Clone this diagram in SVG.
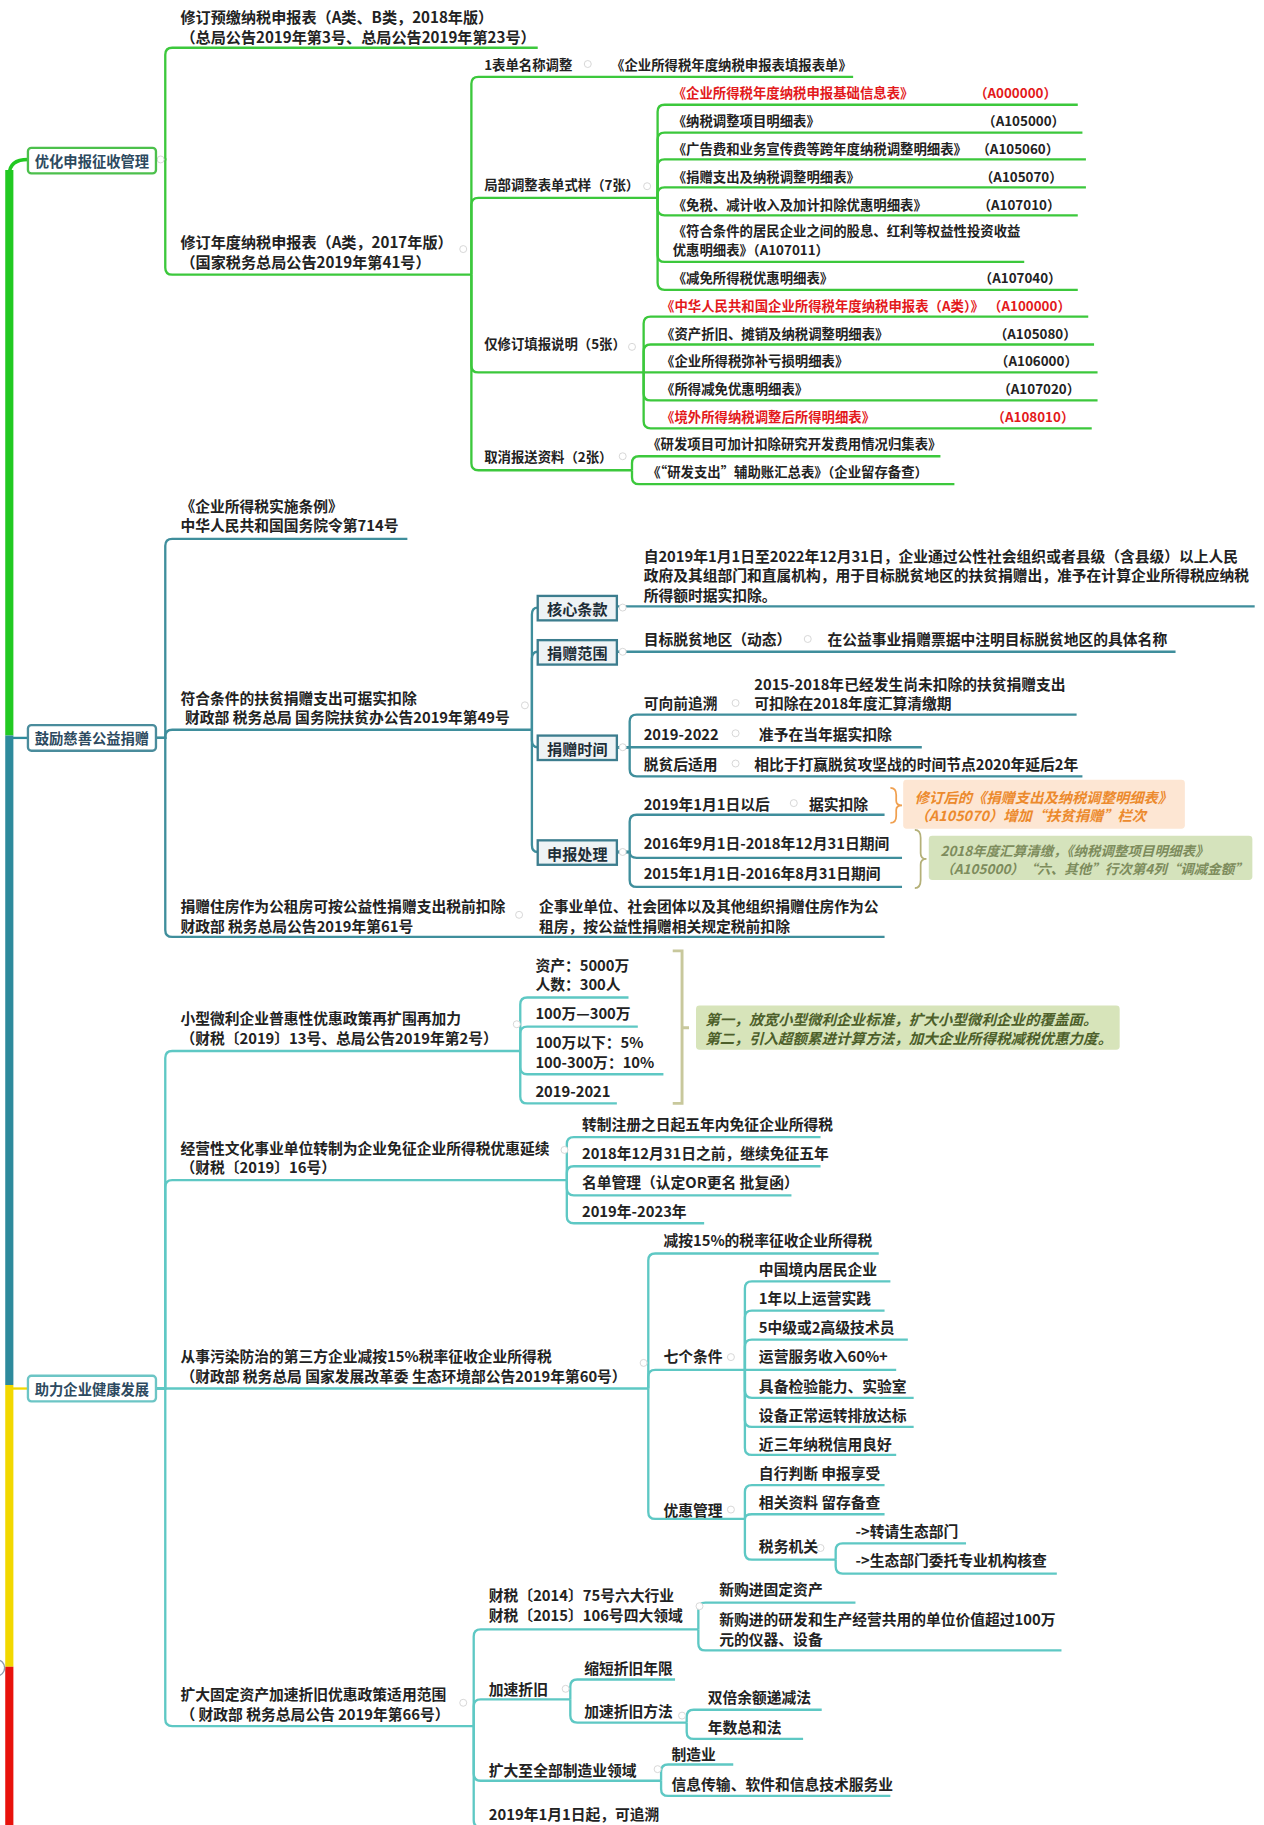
<svg xmlns="http://www.w3.org/2000/svg" width="1264" height="1825" viewBox="0 0 1264 1825">
<style>
.t{font-family:"Noto Sans CJK SC","Noto Sans",sans-serif;font-size:12.7px;font-weight:700;fill:#222;dominant-baseline:central}
.L{font-size:13px}
.s{font-size:11.5px}
.r{fill:#e3191b}
.e{text-anchor:end}
.bl{font-size:12.3px;fill:#2d4a60;text-anchor:middle}
.bx{font-size:13px;fill:#1e2e38;text-anchor:middle}
.c1{stroke:#3cc83c;stroke-width:2;fill:none}
.c2{stroke:#3f8e9c;stroke-width:2;fill:none}
.c3{stroke:#5ec8c4;stroke-width:2;fill:none}
.mk{fill:#fff;stroke:#d4d4d4;stroke-width:0.8}
.sub{fill:#eef3f5;stroke:#3c7d8e;stroke-width:2}
.it{font-style:italic}
</style>
<rect width="1264" height="1825" fill="#fff"/>
<g transform="scale(1.16390)">
<g id="spine">
<path d="M8 632 V146" stroke="#22c922" stroke-width="7" fill="none"/>
<path d="M8 150 Q8 137 24 137" stroke="#22c922" stroke-width="3" fill="none"/>
<path d="M8 1190 V632" stroke="#2e8a9c" stroke-width="7" fill="none"/>
<path d="M8 634 Q12 634 24 634" stroke="#2e8a9c" stroke-width="2" fill="none"/>
<path d="M8 1432 V1190" stroke="#f2d800" stroke-width="7" fill="none"/>
<path d="M8 1193 Q12 1193 24 1193" stroke="#f2d800" stroke-width="2" fill="none"/>
<path d="M8 1568 V1432" stroke="#e8120c" stroke-width="7" fill="none"/>
<circle cx="-3" cy="1433" r="7" fill="#fff" stroke="#8a9aaa" stroke-width="1.2"/>
</g>
<g id="connectors">
<path class="c1" d="M134 137 H142 V47 Q142 41 148 41 H462"/>
<path class="c1" d="M134 137 H142 V230 Q142 236 148 236 H405"/>
<path class="c1" d="M405 236 V72 Q405 66 411 66 H733"/>
<path class="c1" d="M405 236 V176 Q405 170 411 170 H565"/>
<path class="c1" d="M405 236 V314 Q405 320 411 320 H553"/>
<path class="c1" d="M405 236 V398 Q405 404 411 404 H543"/>
<path class="c1" d="M565 170 V96 Q565 90 571 90 H926"/>
<path class="c1" d="M565 170 V120 Q565 114 571 114 H930"/>
<path class="c1" d="M565 170 V143 Q565 137 571 137 H933"/>
<path class="c1" d="M565 170 V167 Q565 161 571 161 H933"/>
<path class="c1" d="M565 170 V179 Q565 185 571 185 H926"/>
<path class="c1" d="M565 170 V219 Q565 225 571 225 H880"/>
<path class="c1" d="M565 170 V243 Q565 249 571 249 H926"/>
<path class="c1" d="M553 320 V278 Q553 272 559 272 H935"/>
<path class="c1" d="M553 320 V302 Q553 296 559 296 H940"/>
<path class="c1" d="M553 320 H943"/>
<path class="c1" d="M553 320 V338 Q553 344 559 344 H943"/>
<path class="c1" d="M553 320 V362 Q553 368 559 368 H938"/>
<path class="c1" d="M543 404 V398 Q543 392 549 392 H808"/>
<path class="c1" d="M543 404 V410 Q543 416 549 416 H820"/>

<path class="c2" d="M134 634 H142 V469 Q142 463 148 463 H350"/>
<path class="c2" d="M134 634 H142 V633 Q142 627 148 627 H457"/>
<path class="c2" d="M134 634 H142 V799 Q142 805 148 805 H760"/>
<path class="c2" d="M457 627 V528 Q457 522 462 522"/>
<path class="c2" d="M457 627 V566 Q457 560 462 560"/>
<path class="c2" d="M457 627 V636 Q457 642 462 642"/>
<path class="c2" d="M457 627 V726 Q457 732 462 732"/>
<path class="c2" d="M530 521 H1078"/>
<path class="c2" d="M530 560 H1010"/>
<path class="c2" d="M530 642 H541 V620 Q541 614 547 614 H925"/>
<path class="c2" d="M530 642 H792"/>
<path class="c2" d="M530 642 H541 V661 Q541 667 547 667 H930"/>
<path class="c2" d="M530 732 H541 V706 Q541 700 547 700 H760"/>
<path class="c2" d="M530 732 H541 Q541 737 547 737 H775"/>
<path class="c2" d="M530 732 H541 V756 Q541 762 547 762 H775"/>

<path class="c3" d="M134 1193 H142 V909 Q142 903 148 903 H447"/>
<path class="c3" d="M134 1193 H142 V1020 Q142 1014 148 1014 H487"/>
<path class="c3" d="M134 1193 H557"/>
<path class="c3" d="M134 1193 H142 V1477 Q142 1483 148 1483 H407"/>
<path class="c3" d="M447 903 V863 Q447 857 453 857 H540"/>
<path class="c3" d="M447 903 V888 Q447 882 453 882 H548"/>
<path class="c3" d="M447 903 V917 Q447 923 453 923 H570"/>
<path class="c3" d="M447 903 V942 Q447 948 453 948 H530"/>
<path class="c3" d="M487 1014 V983 Q487 977 493 977 H705"/>
<path class="c3" d="M487 1014 V1008 Q487 1002 493 1002 H705"/>
<path class="c3" d="M487 1014 V1021 Q487 1027 493 1027 H680"/>
<path class="c3" d="M487 1014 V1045 Q487 1051 493 1051 H605"/>
<path class="c3" d="M557 1193 V1083 Q557 1077 563 1077 H755"/>
<path class="c3" d="M557 1193 V1183 Q557 1177 563 1177 H640"/>
<path class="c3" d="M557 1193 V1299 Q557 1305 563 1305 H640"/>
<path class="c3" d="M640 1177 V1107 Q640 1101 646 1101 H765"/>
<path class="c3" d="M640 1177 V1132 Q640 1126 646 1126 H760"/>
<path class="c3" d="M640 1177 V1157 Q640 1151 646 1151 H780"/>
<path class="c3" d="M640 1177 H770"/>
<path class="c3" d="M640 1177 V1195 Q640 1201 646 1201 H785"/>
<path class="c3" d="M640 1177 V1220 Q640 1226 646 1226 H785"/>
<path class="c3" d="M640 1177 V1244 Q640 1250 646 1250 H770"/>
<path class="c3" d="M640 1305 V1282 Q640 1276 646 1276 H760"/>
<path class="c3" d="M640 1305 Q640 1301 646 1301 H760"/>
<path class="c3" d="M640 1305 V1334 Q640 1340 646 1340 H718"/>
<path class="c3" d="M718 1340 V1332 Q718 1326 724 1326 H830"/>
<path class="c3" d="M718 1340 V1346 Q718 1352 724 1352 H908"/>
<path class="c3" d="M407 1483 V1406 Q407 1400 413 1400 H600"/>
<path class="c3" d="M407 1483 V1466 Q407 1460 413 1460 H490"/>
<path class="c3" d="M407 1483 V1524 Q407 1530 413 1530 H568"/>
<path class="c3" d="M407 1483 V1564 Q407 1570 413 1570 H560"/>
<path class="c3" d="M600 1400 V1383 Q600 1377 606 1377 H735"/>
<path class="c3" d="M600 1400 V1412 Q600 1418 606 1418 H912"/>
<path class="c3" d="M490 1460 V1449 Q490 1443 496 1443 H580"/>
<path class="c3" d="M490 1460 V1474 Q490 1480 496 1480 H590"/>
<path class="c3" d="M590 1480 V1475 Q590 1469 596 1469 H706"/>
<path class="c3" d="M590 1480 V1488 Q590 1494 596 1494 H690"/>
<path class="c3" d="M568 1530 V1522 Q568 1516 574 1516 H630"/>
<path class="c3" d="M568 1530 V1537 Q568 1543 574 1543 H765"/>

<path d="M765 677 Q770 677 770 683 V688 Q770 692 775 692 Q770 692 770 696 V701 Q770 707 765 707" stroke="#f0a050" stroke-width="1.5" fill="none"/>
<path d="M786 713 Q791 713 791 720 V733 Q791 738 796 738 Q791 738 791 743 V756 Q791 763 786 763" stroke="#b4b078" stroke-width="1.5" fill="none"/>
<path d="M578 817 H586 V948 H578 M586 883 H592" stroke="#c8c89c" stroke-width="2.5" fill="none"/>
</g>
<g id="markers">
<circle class="mk" cx="138" cy="137" r="3"/><circle class="mk" cx="505" cy="55" r="3"/>
<circle class="mk" cx="398" cy="214" r="3"/><circle class="mk" cx="556" cy="160" r="3"/>
<circle class="mk" cx="543" cy="298" r="3"/><circle class="mk" cx="535" cy="392" r="3"/>
<circle class="mk" cx="451" cy="606" r="3"/><circle class="mk" cx="446" cy="786" r="3"/>
<circle class="mk" cx="535" cy="522" r="3"/><circle class="mk" cx="535" cy="560" r="3"/>
<circle class="mk" cx="535" cy="642" r="3"/><circle class="mk" cx="535" cy="732" r="3"/>
<circle class="mk" cx="694" cy="549" r="3"/><circle class="mk" cx="632" cy="604" r="3"/>
<circle class="mk" cx="632" cy="630" r="3"/><circle class="mk" cx="632" cy="656" r="3"/>
<circle class="mk" cx="682" cy="690" r="3"/><circle class="mk" cx="444" cy="880" r="3"/>
<circle class="mk" cx="485" cy="988" r="3"/><circle class="mk" cx="553" cy="1171" r="3"/>
<circle class="mk" cx="628" cy="1166" r="3"/><circle class="mk" cx="628" cy="1297" r="3"/>
<circle class="mk" cx="705" cy="1330" r="3"/><circle class="mk" cx="398" cy="1463" r="3"/>
<circle class="mk" cx="601" cy="1380" r="3"/><circle class="mk" cx="486" cy="1451" r="3"/>
<circle class="mk" cx="586" cy="1474" r="3"/><circle class="mk" cx="565" cy="1520" r="3"/>
</g>

<g id="n-youhua">
<rect x="24" y="127" width="110" height="22" rx="3" fill="#fff" stroke="#4cc04c" stroke-width="2"/>
<text class="t bl" x="79" y="138">优化申报征收管理</text>
</g>
<g id="n-yujiao">
<text class="t L" x="155" y="14">修订预缴纳税申报表（A类、B类，2018年版）</text>
<text class="t L" x="155" y="31">（总局公告2019年第3号、总局公告2019年第23号）</text>
</g>
<g id="n-niandu">
<text class="t L" x="155" y="207">修订年度纳税申报表（A类，2017年版）</text>
<text class="t L" x="155" y="224">（国家税务总局公告2019年第41号）</text>
</g>
<g id="n-mingcheng"><text class="t s" x="416" y="55">1表单名称调整</text></g>
<g id="n-tianbao"><text class="t s" x="525" y="55">《企业所得税年度纳税申报表填报表单》</text></g>
<g id="n-jubu"><text class="t s" x="416" y="158">局部调整表单式样（7张）</text></g>
<g id="n-jin"><text class="t s" x="416" y="295">仅修订填报说明（5张）</text></g>
<g id="n-quxiao"><text class="t s" x="416" y="392">取消报送资料（2张）</text></g>
<g id="n-a000000"><text class="t s r" x="578" y="79">《企业所得税年度纳税申报基础信息表》</text><text class="t s r e" x="908" y="79">（A000000）</text></g>
<g id="n-a105000"><text class="t s" x="578" y="103">《纳税调整项目明细表》</text><text class="t s e" x="915" y="103">（A105000）</text></g>
<g id="n-a105060"><text class="t s" x="578" y="127">《广告费和业务宣传费等跨年度纳税调整明细表》</text><text class="t s e" x="910" y="127">（A105060）</text></g>
<g id="n-a105070"><text class="t s" x="578" y="151">《捐赠支出及纳税调整明细表》</text><text class="t s e" x="913" y="151">（A105070）</text></g>
<g id="n-a107010"><text class="t s" x="578" y="175">《免税、减计收入及加计扣除优惠明细表》</text><text class="t s e" x="911" y="175">（A107010）</text></g>
<g id="n-a107011"><text class="t s" x="578" y="198">《符合条件的居民企业之间的股息、红利等权益性投资收益</text><text class="t s" x="578" y="214">优惠明细表》（A107011）</text></g>
<g id="n-a107040"><text class="t s" x="578" y="238">《减免所得税优惠明细表》</text><text class="t s e" x="912" y="238">（A107040）</text></g>
<g id="n-a100000"><text class="t s r" x="568" y="262">《中华人民共和国企业所得税年度纳税申报表（A类）》</text><text class="t s r e" x="920" y="262">（A100000）</text></g>
<g id="n-a105080"><text class="t s" x="568" y="286">《资产折旧、摊销及纳税调整明细表》</text><text class="t s e" x="925" y="286">（A105080）</text></g>
<g id="n-a106000"><text class="t s" x="568" y="309">《企业所得税弥补亏损明细表》</text><text class="t s e" x="926" y="309">（A106000）</text></g>
<g id="n-a107020"><text class="t s" x="568" y="333">《所得减免优惠明细表》</text><text class="t s e" x="928" y="333">（A107020）</text></g>
<g id="n-a108010"><text class="t s r" x="568" y="357">《境外所得纳税调整后所得明细表》</text><text class="t s r e" x="923" y="357">（A108010）</text></g>
<g id="n-yanfa1"><text class="t s" x="556" y="381">《研发项目可加计扣除研究开发费用情况归集表》</text></g>
<g id="n-yanfa2"><text class="t s" x="556" y="405">《“研发支出”辅助账汇总表》（企业留存备查）</text></g>

<g id="n-cishan">
<rect x="24" y="623" width="110" height="22" rx="3" fill="#fff" stroke="#4a8c9c" stroke-width="2"/>
<text class="t bl" x="79" y="634">鼓励慈善公益捐赠</text>
</g>
<g id="n-tiaoli"><text class="t" x="155" y="434">《企业所得税实施条例》</text><text class="t" x="155" y="451">中华人民共和国国务院令第714号</text></g>
<g id="n-fupin"><text class="t" x="155" y="599">符合条件的扶贫捐赠支出可据实扣除</text><text class="t" x="159" y="616">财政部 税务总局 国务院扶贫办公告2019年第49号</text></g>
<g id="n-zhufang"><text class="t" x="155" y="778">捐赠住房作为公租房可按公益性捐赠支出税前扣除</text><text class="t" x="155" y="795">财政部 税务总局公告2019年第61号</text></g>
<g id="n-zhufang2"><text class="t" x="463" y="778">企事业单位、社会团体以及其他组织捐赠住房作为公</text><text class="t" x="463" y="795">租房，按公益性捐赠相关规定税前扣除</text></g>
<g id="n-hexin"><rect class="sub" x="462" y="512" width="68" height="21"/><text class="t bx" x="496" y="522.5">核心条款</text></g>
<g id="n-fanwei"><rect class="sub" x="462" y="550" width="68" height="21"/><text class="t bx" x="496" y="560.5">捐赠范围</text></g>
<g id="n-shijian"><rect class="sub" x="462" y="632" width="68" height="21"/><text class="t bx" x="496" y="642.5">捐赠时间</text></g>
<g id="n-shenbao"><rect class="sub" x="462" y="722" width="68" height="21"/><text class="t bx" x="496" y="732.5">申报处理</text></g>
<g id="n-hexin-t">
<text class="t" x="553" y="477">自2019年1月1日至2022年12月31日，企业通过公性社会组织或者县级（含县级）以上人民</text>
<text class="t" x="553" y="494">政府及其组部门和直属机构，用于目标脱贫地区的扶贫捐赠出，准予在计算企业所得税应纳税</text>
<text class="t" x="553" y="511">所得额时据实扣除。</text>
</g>
<g id="n-diqu"><text class="t" x="553" y="549">目标脱贫地区（动态）</text></g>
<g id="n-piaoju"><text class="t" x="711" y="549">在公益事业捐赠票据中注明目标脱贫地区的具体名称</text></g>
<g id="n-zhuisu"><text class="t" x="553" y="604">可向前追溯</text></g>
<g id="n-zhuisu2"><text class="t" x="648" y="587">2015-2018年已经发生尚未扣除的扶贫捐赠支出</text><text class="t" x="648" y="604">可扣除在2018年度汇算清缴期</text></g>
<g id="n-1922"><text class="t" x="553" y="630">2019-2022</text></g>
<g id="n-1922b"><text class="t" x="652" y="630">准予在当年据实扣除</text></g>
<g id="n-tuopin"><text class="t" x="553" y="656">脱贫后适用</text></g>
<g id="n-tuopin2"><text class="t" x="648" y="656">相比于打赢脱贫攻坚战的时间节点2020年延后2年</text></g>
<g id="n-2019"><text class="t" x="553" y="690">2019年1月1日以后</text></g>
<g id="n-jushi"><text class="t" x="695" y="690">据实扣除</text></g>
<g id="n-2016"><text class="t" x="553" y="724">2016年9月1日-2018年12月31日期间</text></g>
<g id="n-2015"><text class="t" x="553" y="750">2015年1月1日-2016年8月31日期间</text></g>
<g id="n-note1">
<rect x="776" y="670" width="242" height="42" rx="3" fill="#fde6d3"/>
<text class="t it" x="786" y="684" style="fill:#ec8a2d;font-size:12.3px">修订后的《捐赠支出及纳税调整明细表》</text>
<text class="t it" x="786" y="700" style="fill:#ec8a2d;font-size:12.3px">（A105070）增加“扶贫捐赠”栏次</text>
</g>
<g id="n-note2">
<rect x="798" y="718" width="278" height="38" rx="3" fill="#d5e3bc"/>
<text class="t it" x="808" y="730" style="fill:#7d8c5c;font-size:11.6px">2018年度汇算清缴，《纳税调整项目明细表》</text>
<text class="t it" x="808" y="746" style="fill:#7d8c5c;font-size:11.6px">（A105000）“六、其他”行次第4列“调减金额”</text>
</g>

<g id="n-jiankang">
<rect x="24" y="1182" width="110" height="22" rx="3" fill="#fff" stroke="#6cc5c5" stroke-width="2"/>
<text class="t bl" x="79" y="1193">助力企业健康发展</text>
</g>
<g id="n-xiaowei"><text class="t" x="155" y="874">小型微利企业普惠性优惠政策再扩围再加力</text><text class="t" x="155" y="891">（财税〔2019〕13号、总局公告2019年第2号）</text></g>
<g id="n-zichan"><text class="t" x="460" y="829">资产：5000万</text><text class="t" x="460" y="845">人数：300人</text></g>
<g id="n-100300"><text class="t" x="460" y="870">100万—300万</text></g>
<g id="n-rate"><text class="t" x="460" y="895">100万以下：5%</text><text class="t" x="460" y="912">100-300万：10%</text></g>
<g id="n-1921"><text class="t" x="460" y="937">2019-2021</text></g>
<g id="n-note3">
<rect x="598" y="864" width="364" height="38" rx="3" fill="#d7e4ba"/>
<text class="t it" x="606" y="875" style="fill:#4d5f2a;font-size:12.5px">第一，放宽小型微利企业标准，扩大小型微利企业的覆盖面。</text>
<text class="t it" x="606" y="891" style="fill:#4d5f2a;font-size:12.5px">第二，引入超额累进计算方法，加大企业所得税减税优惠力度。</text>
</g>
<g id="n-wenhua"><text class="t" x="155" y="986">经营性文化事业单位转制为企业免征企业所得税优惠延续</text><text class="t" x="155" y="1002">（财税〔2019〕16号）</text></g>
<g id="n-wh1"><text class="t" x="500" y="965">转制注册之日起五年内免征企业所得税</text></g>
<g id="n-wh2"><text class="t" x="500" y="990">2018年12月31日之前，继续免征五年</text></g>
<g id="n-wh3"><text class="t" x="500" y="1015">名单管理（认定OR更名 批复函）</text></g>
<g id="n-wh4"><text class="t" x="500" y="1040">2019年-2023年</text></g>
<g id="n-wuran"><text class="t" x="155" y="1165">从事污染防治的第三方企业减按15%税率征收企业所得税</text><text class="t" x="155" y="1182">（财政部 税务总局 国家发展改革委 生态环境部公告2019年第60号）</text></g>
<g id="n-jian15"><text class="t" x="570" y="1065">减按15%的税率征收企业所得税</text></g>
<g id="n-qige"><text class="t" x="570" y="1165">七个条件</text></g>
<g id="n-q1"><text class="t" x="652" y="1090">中国境内居民企业</text></g>
<g id="n-q2"><text class="t" x="652" y="1115">1年以上运营实践</text></g>
<g id="n-q3"><text class="t" x="652" y="1140">5中级或2高级技术员</text></g>
<g id="n-q4"><text class="t" x="652" y="1165">运营服务收入60%+</text></g>
<g id="n-q5"><text class="t" x="652" y="1190">具备检验能力、实验室</text></g>
<g id="n-q6"><text class="t" x="652" y="1215">设备正常运转排放达标</text></g>
<g id="n-q7"><text class="t" x="652" y="1240">近三年纳税信用良好</text></g>
<g id="n-youhui"><text class="t" x="570" y="1297">优惠管理</text></g>
<g id="n-y1"><text class="t" x="652" y="1265">自行判断 申报享受</text></g>
<g id="n-y2"><text class="t" x="652" y="1290">相关资料 留存备查</text></g>
<g id="n-shuiwu"><text class="t" x="652" y="1328">税务机关</text></g>
<g id="n-s1"><text class="t" x="735" y="1315">-&gt;转请生态部门</text></g>
<g id="n-s2"><text class="t" x="735" y="1340">-&gt;生态部门委托专业机构核查</text></g>
<g id="n-zhejiu"><text class="t" x="155" y="1455">扩大固定资产加速折旧优惠政策适用范围</text><text class="t" x="155" y="1472">（ 财政部 税务总局公告 2019年第66号）</text></g>
<g id="n-caishui"><text class="t" x="420" y="1370">财税〔2014〕75号六大行业</text><text class="t" x="420" y="1387">财税〔2015〕106号四大领域</text></g>
<g id="n-xingou"><text class="t" x="618" y="1365">新购进固定资产</text></g>
<g id="n-xingou2"><text class="t" x="618" y="1391">新购进的研发和生产经营共用的单位价值超过100万</text><text class="t" x="618" y="1408">元的仪器、设备</text></g>
<g id="n-jiasu"><text class="t" x="420" y="1451">加速折旧</text></g>
<g id="n-suoduan"><text class="t" x="502" y="1433">缩短折旧年限</text></g>
<g id="n-fangfa"><text class="t" x="502" y="1470">加速折旧方法</text></g>
<g id="n-shuangbei"><text class="t" x="608" y="1458">双倍余额递减法</text></g>
<g id="n-nianshu"><text class="t" x="608" y="1483">年数总和法</text></g>
<g id="n-kuoda"><text class="t" x="420" y="1520">扩大至全部制造业领域</text></g>
<g id="n-zhizao"><text class="t" x="577" y="1507">制造业</text></g>
<g id="n-xinxi"><text class="t" x="577" y="1532">信息传输、软件和信息技术服务业</text></g>
<g id="n-zhuisu19"><text class="t" x="420" y="1558">2019年1月1日起，可追溯</text></g>
</g>
</svg>
